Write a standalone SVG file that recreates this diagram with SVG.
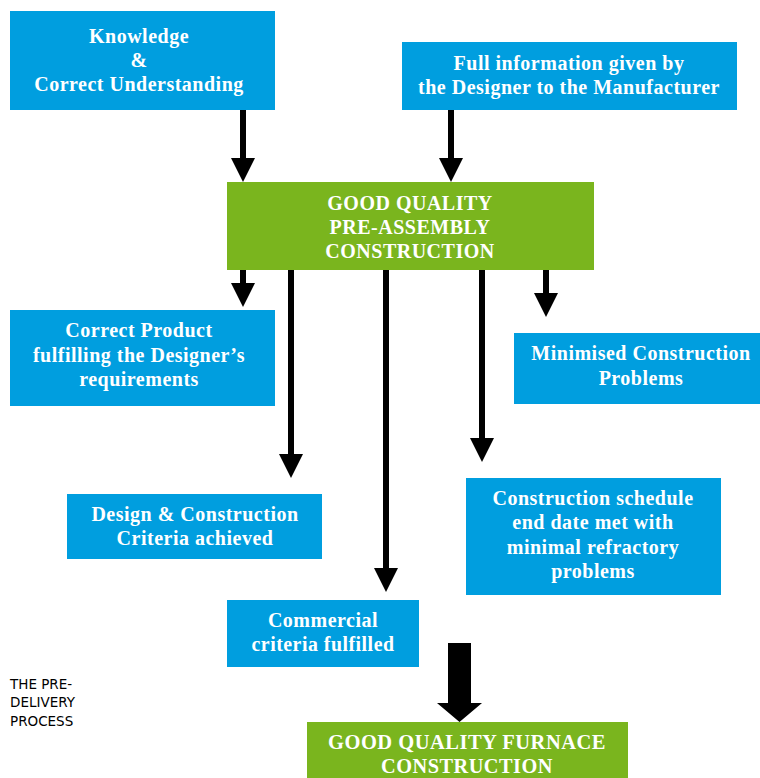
<svg xmlns="http://www.w3.org/2000/svg" width="760" height="778" viewBox="0 0 760 778">
<style>
.b{fill:#009EDF}
.g{fill:#7AB51E}
.t{font-family:"Liberation Serif","Times New Roman",serif;font-weight:bold;font-size:20px;letter-spacing:0.5px;fill:#fff;text-anchor:middle;dominant-baseline:central}
.s{stroke:#000;stroke-width:6;fill:none}
.h{fill:#000}
.n{font-family:"DejaVu Sans",sans-serif;font-size:13.5px;fill:#000}
</style>
<rect width="760" height="778" fill="#fff"/>
<g id="knowledge"><rect class="b" x="10" y="11" width="265" height="99"/>
<text class="t" x="139" y="36">Knowledge</text><text class="t" x="139" y="60">&amp;</text><text class="t" x="139" y="84">Correct Understanding</text></g>
<g id="fullinfo"><rect class="b" x="402" y="42" width="335" height="68"/>
<text class="t" x="569" y="63">Full information given by</text><text class="t" x="569" y="87">the Designer to the Manufacturer</text></g>
<g id="preassembly"><rect class="g" x="227" y="182" width="367" height="88"/>
<text class="t" x="410" y="203">GOOD QUALITY</text><text class="t" x="410" y="227">PRE-ASSEMBLY</text><text class="t" x="410" y="251">CONSTRUCTION</text></g>
<g id="correctproduct"><rect class="b" x="10" y="310" width="265" height="96"/>
<text class="t" x="139" y="330">Correct Product</text><text class="t" x="139" y="355">fulfilling the Designer’s</text><text class="t" x="139" y="379">requirements</text></g>
<g id="minimised"><rect class="b" x="514" y="333" width="246" height="71"/>
<text class="t" x="641" y="353">Minimised Construction</text><text class="t" x="641" y="378">Problems</text></g>
<g id="designcriteria"><rect class="b" x="67" y="494" width="255" height="65"/>
<text class="t" x="195" y="514">Design &amp; Construction</text><text class="t" x="195" y="538">Criteria achieved</text></g>
<g id="schedule"><rect class="b" x="466" y="478" width="255" height="117"/>
<text class="t" x="593" y="498">Construction schedule</text><text class="t" x="593" y="522">end date met with</text><text class="t" x="593" y="547">minimal refractory</text><text class="t" x="593" y="571">problems</text></g>
<g id="commercial"><rect class="b" x="227" y="600" width="192" height="67"/>
<text class="t" x="323" y="620">Commercial</text><text class="t" x="323" y="644" textLength="143" lengthAdjust="spacingAndGlyphs">criteria fulfilled</text></g>
<g id="furnace"><rect class="g" x="307" y="722" width="321" height="56"/>
<text class="t" x="467" y="742" textLength="278" lengthAdjust="spacingAndGlyphs">GOOD QUALITY FURNACE</text><text class="t" x="467" y="766" textLength="172" lengthAdjust="spacingAndGlyphs">CONSTRUCTION</text></g>
<g id="label"><text class="n" x="10" y="689">THE PRE-</text><text class="n" x="10" y="707">DELIVERY</text><text class="n" x="10" y="726">PROCESS</text></g>
<g id="connectors">
<line class="s" x1="243" y1="110" x2="243" y2="160"/><polygon class="h" points="231,158 255,158 243,182"/>
<line class="s" x1="451" y1="110" x2="451" y2="160"/><polygon class="h" points="439,158 463,158 451,182"/>
<line class="s" x1="243" y1="270" x2="243" y2="285"/><polygon class="h" points="231,283 255,283 243,307"/>
<line class="s" x1="291" y1="270" x2="291" y2="456"/><polygon class="h" points="279,454 303,454 291,478"/>
<line class="s" x1="386" y1="270" x2="386" y2="570"/><polygon class="h" points="374,568 398,568 386,592"/>
<line class="s" x1="482" y1="270" x2="482" y2="440"/><polygon class="h" points="470,438 494,438 482,462"/>
<line class="s" x1="546" y1="270" x2="546" y2="295"/><polygon class="h" points="534,293 558,293 546,317"/>
<polygon class="h" points="448,643 471,643 471,703 482,703 459.5,722 437,703 448,703"/>
</g>
</svg>
